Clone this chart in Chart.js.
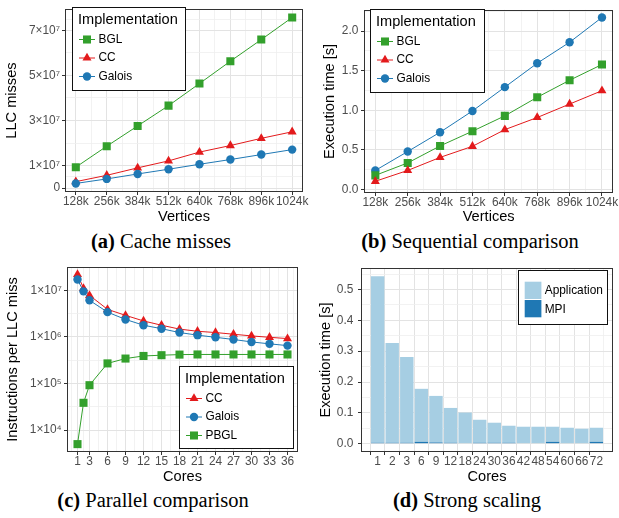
<!DOCTYPE html>
<html>
<head>
<meta charset="utf-8">
<script src="https://cdn.jsdelivr.net/npm/chart.js@4.4.0/dist/chart.umd.min.js"></script>
<style>
  body { margin: 0; background: #fff; width: 619px; height: 518px; position: relative; overflow: hidden; }
  canvas { position: absolute; }
  .cap { position: absolute; font-family: "Liberation Serif", "DejaVu Serif", serif; font-size: 20.5px;
         line-height: 21px; white-space: nowrap; transform: translateX(-50%); color: #000; }
</style>
</head>
<body>
<canvas id="cA" width="310" height="228" style="left:0;top:0"></canvas>
<canvas id="cB" width="309" height="228" style="left:310px;top:0"></canvas>
<canvas id="cC" width="310" height="232" style="left:0;top:255px"></canvas>
<canvas id="cD" width="309" height="232" style="left:310px;top:255px"></canvas>
<div class="cap" style="left:161px;top:231px"><b>(a)</b> Cache misses</div>
<div class="cap" style="left:470px;top:231px"><b>(b)</b> Sequential comparison</div>
<div class="cap" style="left:153px;top:490px"><b>(c)</b> Parallel comparison</div>
<div class="cap" style="left:467px;top:490px"><b>(d)</b> Strong scaling</div>
<script>
// (a) cache misses and (b) sequential time, by graph size (thousands of vertices)
const VERTICES = [128, 256, 384, 512, 640, 768, 896, 1024];
const MISSES_BGL = [0.93e7, 1.86e7, 2.76e7, 3.66e7, 4.64e7, 5.63e7, 6.59e7, 7.57e7];
const MISSES_CC = [0.29e7, 0.57e7, 0.90e7, 1.21e7, 1.60e7, 1.89e7, 2.21e7, 2.50e7];
const MISSES_GALOIS = [0.21e7, 0.41e7, 0.63e7, 0.84e7, 1.06e7, 1.27e7, 1.49e7, 1.71e7];
const SEQ_BGL = [0.178, 0.335, 0.55, 0.736, 0.93, 1.165, 1.38, 1.579];
const SEQ_CC = [0.103, 0.24, 0.405, 0.545, 0.756, 0.909, 1.079, 1.248];
const SEQ_GALOIS = [0.24, 0.479, 0.723, 0.992, 1.293, 1.595, 1.86, 2.174];

// (c) instructions per LLC miss, by core count
const CORES_PAR = [1, 2, 3, 6, 9, 12, 15, 18, 21, 24, 27, 30, 33, 36];
const IPM_CC = [2.2e7, 1.1e7, 7.8e6, 3.9e6, 2.9e6, 2.2e6, 1.78e6, 1.47e6, 1.32e6, 1.24e6, 1.14e6, 1.05e6, 0.98e6, 0.92e6];
const IPM_GALOIS = [1.7e7, 9.5e6, 6.1e6, 3.4e6, 2.37e6, 1.78e6, 1.5e6, 1.24e6, 1.09e6, 0.98e6, 0.88e6, 0.78e6, 0.71e6, 0.65e6];
const IPM_PBGL = [5.0e3, 3.85e4, 9.2e4, 2.7e5, 3.43e5, 3.9e5, 4.05e5, 4.17e5, 4.2e5, 4.2e5, 4.2e5, 4.2e5, 4.2e5, 4.2e5];

// (d) strong scaling, stacked time
const CORES_STRONG = ["1", "2", "3", "6", "9", "12", "18", "24", "30", "36", "42", "48", "54", "60", "66", "72"];
const TIME_MPI = [0.003, 0.003, 0.003, 0.006, 0.004, 0.003, 0, 0.003, 0.003, 0.003, 0, 0, 0.006, 0, 0, 0.006];
const TIME_APP = [0.540, 0.3235, 0.278, 0.172, 0.151, 0.113, 0.101, 0.0746, 0.065, 0.0552, 0.055, 0.055, 0.049, 0.0517, 0.0485, 0.0457];

// ticks (major labelled, minor = light grid only)
const X_VERT_MAJOR = VERTICES;
const X_VERT_MINOR = [192, 320, 448, 576, 704, 832, 960];
const Y_MISS_MAJOR = [0, 1e7, 3e7, 5e7, 7e7];
const Y_MISS_MINOR = [0.5e7, 2e7, 4e7, 6e7, 7.5e7];
const Y_SEQ_MAJOR = [0, 0.5, 1, 1.5, 2];
const Y_SEQ_MINOR = [0.25, 0.75, 1.25, 1.75, 2.25];
const X_CORES_MAJOR = [1, 3, 6, 9, 12, 15, 18, 21, 24, 27, 30, 33, 36];
const X_CORES_MINOR = [0, 2, 4.5, 7.5, 10.5, 13.5, 16.5, 19.5, 22.5, 25.5, 28.5, 31.5, 34.5, 37];
const Y_IPM_MAJOR = [1e4, 1e5, 1e6, 1e7];
const Y_IPM_MINOR = [Math.pow(10, 4.5), Math.pow(10, 5.5), Math.pow(10, 6.5)];
const Y_STRONG_MAJOR = [0, 0.1, 0.2, 0.3, 0.4, 0.5];
const Y_STRONG_MINOR = [0.05, 0.15, 0.25, 0.35, 0.45, 0.55];

const GREEN = "#33a02c", RED = "#e31a1c", BLUE = "#1f78b4", LIGHTBLUE = "#a6cee3";
const SUP = { "4": "\u2074", "5": "\u2075", "6": "\u2076", "7": "\u2077" };

Chart.defaults.font.family = "'Liberation Sans', 'DejaVu Sans', sans-serif";

function axis(o) {
  return {
    type: o.type || "linear",
    min: o.min, max: o.max,
    bounds: "data",
    stacked: o.stacked || false,
    afterBuildTicks: function (s) {
      const t = o.major.map(function (v) { return { value: v, mj: true }; })
        .concat(o.minor.map(function (v) { return { value: v, mj: false }; }));
      t.sort(function (p, q) { return p.value - q.value; });
      s.ticks = t;
    },
    afterFit: function (s) {
      if (s.isHorizontal()) s.height = o.size; else s.width = o.size;
    },
    grid: {
      color: function (c) { return c.tick && c.tick.mj ? "#e3e3e3" : "#efefef"; },
      lineWidth: function (c) { return c.tick && c.tick.mj ? 1 : 0.8; },
      tickColor: function (c) { return c.tick && c.tick.mj ? "#333" : "rgba(0,0,0,0)"; },
      tickLength: 3
    },
    border: { display: false },
    ticks: {
      autoSkip: false, maxRotation: 0, minRotation: 0, padding: o.tickPad,
      color: "#4d4d4d", font: { size: 11.9 },
      callback: function (v, i, t) { return t[i].mj ? o.fmt(v) : ""; }
    },
    title: { display: true, text: o.title, color: "#000", font: { size: 14.6 }, padding: { top: o.titlePad, bottom: 0 } }
  };
}

function sciLabel(v) {
  if (v === 0) return "0";
  const e = Math.floor(Math.log10(v) + 1e-9);
  const m = Math.round(v / Math.pow(10, e));
  return m + "\u00d710" + SUP[String(e)];
}

function shape(ctx, style, x, y, r) {
  ctx.beginPath();
  if (style === "rect") {
    const s = Math.SQRT1_2 * r;
    ctx.rect(x - s, y - s, 2 * s, 2 * s);
  } else if (style === "triangle") {
    ctx.moveTo(x, y - r);
    ctx.lineTo(x + Math.sin(2 * Math.PI / 3) * r, y + r / 2);
    ctx.lineTo(x - Math.sin(2 * Math.PI / 3) * r, y + r / 2);
    ctx.closePath();
  } else {
    ctx.arc(x, y, r, 0, 2 * Math.PI);
  }
  ctx.fill();
}

function lineLegend(box) {
  return function (chart) {
    const ctx = chart.ctx;
    ctx.save();
    ctx.fillStyle = "#fff";
    ctx.fillRect(box.x, box.y, box.w, box.h);
    ctx.strokeStyle = "#111"; ctx.lineWidth = 1;
    ctx.strokeRect(box.x + 0.5, box.y + 0.5, box.w, box.h);
    ctx.fillStyle = "#000";
    ctx.textBaseline = "middle"; ctx.textAlign = "left";
    ctx.font = "14.6px 'Liberation Sans', sans-serif";
    ctx.fillText("Implementation", box.x + 6, box.y + 13);
    ctx.font = "11.9px 'Liberation Sans', sans-serif";
    chart.data.datasets.forEach(function (d, i) {
      const cy = box.y + 32.5 + i * 18.5, cx = box.x + 15;
      ctx.strokeStyle = d.borderColor; ctx.lineWidth = 1;
      ctx.beginPath(); ctx.moveTo(cx - 8, cy); ctx.lineTo(cx + 8, cy); ctx.stroke();
      ctx.fillStyle = d.borderColor;
      shape(ctx, d.pointStyle, cx, cy, d.pointRadius);
      ctx.fillStyle = "#000";
      ctx.fillText(d.label, box.x + 26.5, cy);
    });
    ctx.restore();
  };
}

function barLegend(box) {
  return function (chart) {
    const ctx = chart.ctx;
    ctx.save();
    ctx.fillStyle = "#fff";
    ctx.fillRect(box.x, box.y, box.w, box.h);
    ctx.strokeStyle = "#111"; ctx.lineWidth = 1;
    ctx.strokeRect(box.x + 0.5, box.y + 0.5, box.w, box.h);
    ctx.textBaseline = "middle"; ctx.textAlign = "left";
    ctx.font = "11.9px 'Liberation Sans', sans-serif";
    const order = [1, 0]; // Application listed first
    order.forEach(function (k, i) {
      const d = chart.data.datasets[k];
      const top = box.y + 11.7 + i * 18.3;
      ctx.fillStyle = d.backgroundColor;
      ctx.fillRect(box.x + 6.7, top, 16.7, 17.3);
      ctx.fillStyle = "#000";
      ctx.fillText(d.label, box.x + 26.7, top + 9.3);
    });
    ctx.restore();
  };
}

function framePlugin(drawLegend) {
  return {
    id: "frame",
    afterDatasetsDraw: function (chart) {
      const a = chart.chartArea, ctx = chart.ctx;
      ctx.save();
      ctx.strokeStyle = "#333"; ctx.lineWidth = 1;
      ctx.strokeRect(Math.round(a.left) + 0.5, Math.round(a.top) + 0.5,
        Math.round(a.right - a.left) - 1, Math.round(a.bottom - a.top) - 1);
      ctx.restore();
    },
    afterDraw: function (chart) { drawLegend(chart); }
  };
}

function series(label, xs, ys, color, style, order) {
  return {
    label: label,
    data: xs.map(function (x, i) { return { x: x, y: ys[i] }; }),
    borderColor: color, backgroundColor: color, borderWidth: 1,
    pointStyle: style, pointRadius: style === "rect" ? 5.7 : (style === "triangle" ? 5.2 : 4.2),
    pointBackgroundColor: color, pointBorderWidth: 0, pointHoverRadius: 4,
    order: order, tension: 0
  };
}

function baseOptions(pad, scales) {
  return {
    responsive: false, animation: false, devicePixelRatio: 1,
    layout: { padding: pad },
    plugins: { legend: { display: false }, tooltip: { enabled: false } },
    scales: scales
  };
}

const kfmt = function (v) { return v + "k"; };

// (a) Cache misses
new Chart(document.getElementById("cA"), {
  type: "line",
  data: { datasets: [
    series("BGL", VERTICES, MISSES_BGL, GREEN, "rect", 3),
    series("CC", VERTICES, MISSES_CC, RED, "triangle", 2),
    series("Galois", VERTICES, MISSES_GALOIS, BLUE, "circle", 1)
  ] },
  options: baseOptions({ top: 4, right: 7, bottom: 2, left: 0 }, {
    x: axis({ min: 83.2, max: 1068.8, major: X_VERT_MAJOR, minor: X_VERT_MINOR, fmt: kfmt,
      title: "Vertices", size: 34, tickPad: 0, titlePad: 0 }),
    y: axis({ min: -0.17e7, max: 7.94e7, major: Y_MISS_MAJOR, minor: Y_MISS_MINOR, fmt: sciLabel,
      title: "LLC misses", size: 65, tickPad: 2, titlePad: 3.2 })
  }),
  plugins: [framePlugin(lineLegend({ x: 72, y: 7, w: 113, h: 83 }))]
});

// (b) Sequential comparison
new Chart(document.getElementById("cB"), {
  type: "line",
  data: { datasets: [
    series("BGL", VERTICES, SEQ_BGL, GREEN, "rect", 2),
    series("CC", VERTICES, SEQ_CC, RED, "triangle", 1),
    series("Galois", VERTICES, SEQ_GALOIS, BLUE, "circle", 3)
  ] },
  options: baseOptions({ top: 6, right: 3, bottom: 2, left: 0 }, {
    x: axis({ min: 83.2, max: 1068.8, major: X_VERT_MAJOR, minor: X_VERT_MINOR, fmt: kfmt,
      title: "Vertices", size: 33, tickPad: 0, titlePad: 0 }),
    y: axis({ min: -0.045, max: 2.27, major: Y_SEQ_MAJOR, minor: Y_SEQ_MINOR,
      fmt: function (v) { return v.toFixed(1); },
      title: "Execution time [s]", size: 54, tickPad: 2.7, titlePad: 11.2 })
  }),
  plugins: [framePlugin(lineLegend({ x: 60, y: 9, w: 114, h: 83 }))]
});

// (c) Parallel comparison
new Chart(document.getElementById("cC"), {
  type: "line",
  data: { datasets: [
    series("CC", CORES_PAR, IPM_CC, RED, "triangle", 3),
    series("Galois", CORES_PAR, IPM_GALOIS, BLUE, "circle", 2),
    series("PBGL", CORES_PAR, IPM_PBGL, GREEN, "rect", 1)
  ] },
  options: baseOptions({ top: 12, right: 12, bottom: 1, left: 0 }, {
    x: axis({ min: -0.75, max: 37.75, major: X_CORES_MAJOR, minor: X_CORES_MINOR, fmt: function (v) { return String(v); },
      title: "Cores", size: 34, tickPad: 0, titlePad: 0 }),
    y: axis({ type: "logarithmic", min: Math.pow(10, 3.53), max: Math.pow(10, 7.5), major: Y_IPM_MAJOR, minor: Y_IPM_MINOR,
      fmt: sciLabel, title: "Instructions per LLC miss", size: 67, tickPad: 2.3, titlePad: 4.6 })
  }),
  plugins: [framePlugin(lineLegend({ x: 179, y: 111, w: 114, h: 82 }))]
});

// (d) Strong scaling
new Chart(document.getElementById("cD"), {
  type: "bar",
  data: { datasets: [
    { label: "MPI", data: TIME_MPI.map(function (v, i) { return { x: i, y: v }; }),
      backgroundColor: BLUE, borderWidth: 0, barPercentage: 0.92, categoryPercentage: 1 },
    { label: "Application", data: TIME_APP.map(function (v, i) { return { x: i, y: v }; }),
      backgroundColor: LIGHTBLUE, borderWidth: 0, barPercentage: 0.92, categoryPercentage: 1 }
  ] },
  options: baseOptions({ top: 13, right: 6, bottom: 1, left: 0 }, {
    x: axis({ min: -0.6, max: 15.6, stacked: true, major: CORES_STRONG.map(function (_, i) { return i; }), minor: [],
      fmt: function (v) { return CORES_STRONG[v]; }, title: "Cores", size: 34, tickPad: 0, titlePad: 0 }),
    y: axis({ min: -0.027, max: 0.57, stacked: true, major: Y_STRONG_MAJOR, minor: Y_STRONG_MINOR,
      fmt: function (v) { return v.toFixed(1); }, title: "Execution time [s]", size: 51, tickPad: 4.7, titlePad: 7.2 })
  }),
  plugins: [framePlugin(barLegend({ x: 208, y: 15, w: 89, h: 54 }))]
});
</script>
</body>
</html>
